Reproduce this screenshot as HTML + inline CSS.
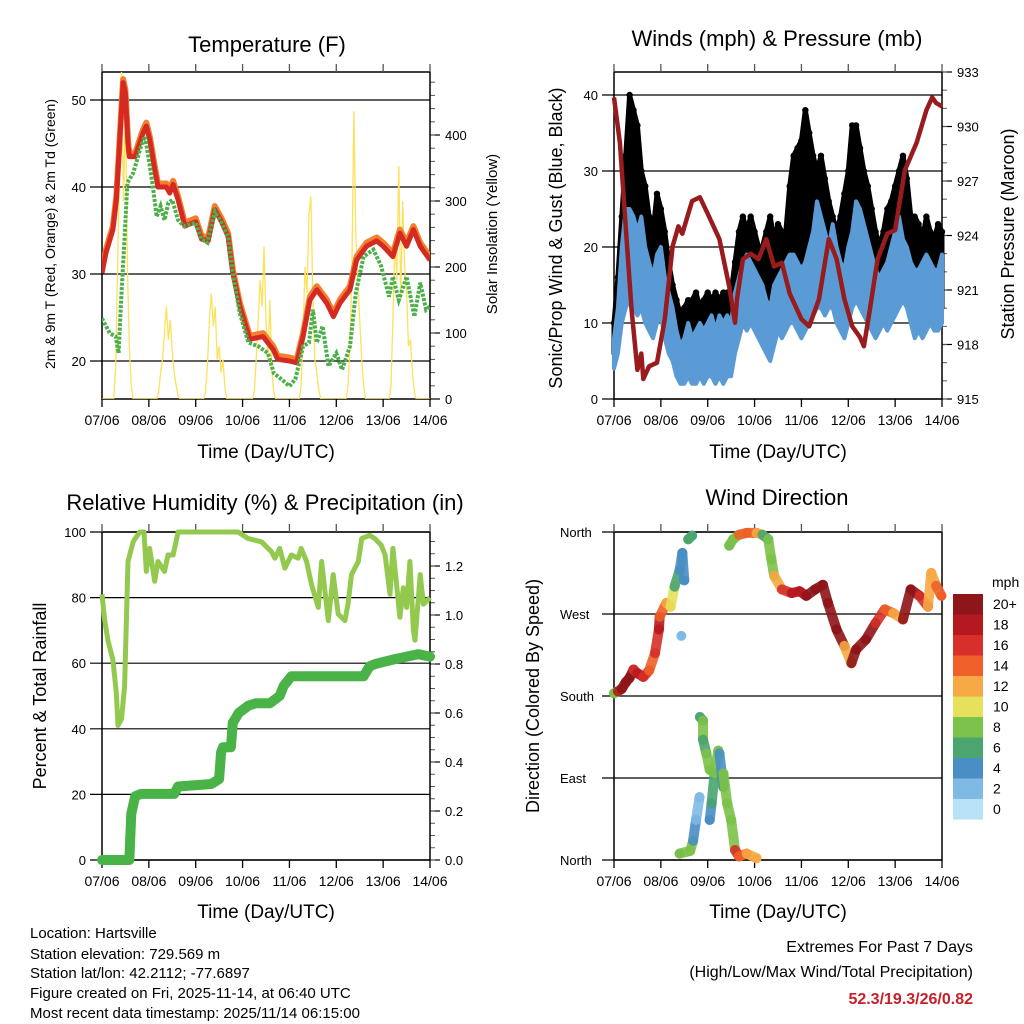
<!DOCTYPE html>
<html><head><meta charset="utf-8"><style>
html,body{margin:0;padding:0;background:#fff;}
svg{display:block;font-family:"Liberation Sans",Arial,sans-serif;}
</style></head><body>
<svg id="fig" width="1024" height="1024" viewBox="0 0 1024 1024" xmlns="http://www.w3.org/2000/svg">
<rect x="0" y="0" width="1024" height="1024" fill="#fff"/>
<g id="layer"></g>
<text x="267" y="52" font-size="22" text-anchor="middle">Temperature (F)</text>
<text x="777" y="46" font-size="22" text-anchor="middle">Winds (mph) &amp; Pressure (mb)</text>
<text x="265" y="510" font-size="22" text-anchor="middle">Relative Humidity (%) &amp; Precipitation (in)</text>
<text x="777" y="505" font-size="22" text-anchor="middle">Wind Direction</text>
<text x="266" y="458" font-size="19" text-anchor="middle">Time (Day/UTC)</text>
<text x="778" y="458" font-size="19" text-anchor="middle">Time (Day/UTC)</text>
<text x="266" y="918" font-size="19" text-anchor="middle">Time (Day/UTC)</text>
<text x="778" y="918" font-size="19" text-anchor="middle">Time (Day/UTC)</text>
<text transform="translate(55,234) rotate(-90)" font-size="14" text-anchor="middle">2m &amp; 9m T (Red, Orange) &amp; 2m Td (Green)</text>
<text transform="translate(497,234) rotate(-90)" font-size="15" text-anchor="middle">Solar Insolation (Yellow)</text>
<text transform="translate(562,238) rotate(-90)" font-size="18" text-anchor="middle">Sonic/Prop Wind &amp; Gust (Blue, Black)</text>
<text transform="translate(1014,234) rotate(-90)" font-size="18" text-anchor="middle">Station Pressure (Maroon)</text>
<text transform="translate(46,696) rotate(-90)" font-size="18" text-anchor="middle">Percent &amp; Total Rainfall</text>
<text transform="translate(539,696) rotate(-90)" font-size="18" text-anchor="middle">Direction (Colored By Speed)</text>
<g font-size="15">
<text x="30" y="938">Location: Hartsville</text>
<text x="30" y="959">Station elevation: 729.569 m</text>
<text x="30" y="978">Station lat/lon: 42.2112; -77.6897</text>
<text x="30" y="998">Figure created on Fri, 2025-11-14, at 06:40 UTC</text>
<text x="30" y="1018">Most recent data timestamp: 2025/11/14 06:15:00</text>
</g>
<text x="973" y="952" font-size="16" text-anchor="end">Extremes For Past 7 Days</text>
<text x="973" y="977" font-size="16" text-anchor="end">(High/Low/Max Wind/Total Precipitation)</text>
<text x="973" y="1004" font-size="16" font-weight="bold" fill="#c8202a" text-anchor="end">52.3/19.3/26/0.82</text>
<text x="992" y="587" font-size="14">mph</text>
</svg>
<script>
// ---------- data ----------
const dayLabels = ["07/06","08/06","09/06","10/06","11/06","12/06","13/06","14/06"];
const tHours = [0,2,5.6,7.3,9,10.8,12,13.3,14,17,21,22.7,24.5,27,28.7,33,34.7,36.4,39,42.4,48,51,54.4,57.8,61.2,64.6,67,70.6,75.7,82.5,87.7,90,96,99.7,103,106.5,110,115,118.5,122,127,130.4,135.5,140.7,144,149,152.6,156,159.5,163,168];
const tempVals = [30.1,32.4,35.1,38.5,45,52,50.8,45,43.5,43.5,46.2,47,45.4,42,40,40,39.3,40.3,38.5,35.5,36,34,33.8,37.4,36,34.3,30.1,26.3,22.5,22.8,21.3,20.2,20,19.8,22.8,27,28.2,26.7,25.1,26.7,28.2,31.6,33.2,33.8,33.2,32,34.7,33.2,35.1,33.2,31.6];
const tdHours = [0,4,7,8.5,10,11.5,13,16,20,22,24,26,28,30,32,34,36,39,42,48,51,54,57.8,61,64.6,67,70.6,75,80,85,88,92,96,99,103,106,108,110,113,116,120,123,127,130,134,139,143,147,149,152,156,160,163,166,168];
const tdVals = [24.9,23.2,22.8,20.9,27.8,34,40.5,41.6,44.7,45.8,43.1,40.1,36.6,37.8,36.2,38.2,38.5,36.2,35.5,35.9,34,33.6,37.2,36,34.3,30.1,25.5,22.1,21.7,20.9,18.6,17.9,17.1,17.9,21.7,22.1,25.9,22.1,24,19.4,20.9,19,21.7,27.8,32,32.8,30.9,27.4,29.7,27,29.7,25.1,29,25.9,26.3];
const solarHours = [0,6,7,8,9,10,11,12,13,14,15,16,28,29,30,31,32,33,34,35,36,37,38,39,40,52,53,54,55,56,57,58,59,60,61,62,63,64,77,78,79,80,81,82,83,84,85,86,87,88,89,101,102,103,104,105,106,107,108,109,110,111,112,125,126,127,128,129,130,131,132,133,134,135,147,148,149,150,151,152,153,154,155,156,157,158,159,160,161,168];
const solarVals = [0,0,50,200,350,500,300,450,200,80,20,0,0,10,40,60,100,140,90,120,70,40,20,5,0,0,10,50,120,160,110,140,60,80,40,60,15,0,0,10,60,120,180,140,231,120,60,150,40,10,0,0,20,100,200,160,280,307,150,60,40,15,0,0,20,80,200,436,250,180,120,60,20,0,0,20,120,250,180,353,150,300,200,160,80,90,40,10,0,0];
const wHours = [0,2,4,6,8,10,12,14,16,18,20,22,24,26,28,30,32,34,36,38,40,42,44,46,48,50,52,54,56,58,60,62,64,66,68,70,72,74,76,78,80,82,84,86,88,90,92,94,96,98,100,102,104,106,108,110,112,114,116,118,120,122,124,126,128,130,132,134,136,138,140,142,144,146,148,150,152,154,156,158,160,162,164,166,168];
const windLo = [4,6,10,12,13,12,11,12,10,9,8,10,11,8,6,5,3,2,2,3,2,2,3,2,3,3,2,3,2,3,3,6,8,10,9,10,9,8,7,6,5,7,9,8,9,10,10,9,8,9,10,11,12,12,11,12,12,10,9,8,10,12,13,12,11,10,9,8,9,10,9,10,11,12,13,12,10,8,9,8,9,10,9,9,10];
const windHi = [8,12,20,25,25,24,22,24,20,18,16,19,20,16,14,12,9,7,8,10,8,9,10,9,10,11,9,11,10,11,10,14,16,18,19,18,17,16,15,13,12,15,16,17,18,19,19,18,17,18,20,22,26,24,22,20,23,20,18,17,20,22,26,25,23,21,19,17,16,17,18,20,22,24,21,20,18,17,17,18,19,18,17,17,19];
const gustLo = [6,8,14,18,20,18,18,16,14,12,12,14,14,12,10,8,6,5,6,6,7,7,8,8,8,8,8,9,9,9,9,10,12,13,13,12,13,12,10,10,12,13,13,14,14,16,17,18,18,18,17,16,17,16,15,14,13,12,12,14,16,18,18,17,16,15,13,12,11,11,12,12,13,14,14,13,12,12,11,11,12,11,11,11,12];
const gustHi = [10,16,24,32,40,38,36,30,28,24,22,27,25,22,18,15,13,11,12,13,13,14,12,13,14,13,14,13,14,14,14,18,22,24,22,24,22,20,20,22,24,21,23,22,22,28,32,33,34,38,35,32,30,32,29,26,24,22,24,27,30,36,36,33,30,28,25,22,20,22,25,26,28,30,32,29,24,24,23,21,24,22,21,23,22];
const pHours = [0,3,6,9,12,14,15,18,22,26,30,33,35,40,44,48,54,59,62,63,66,70,74,78,82,86,90,96,100,105,110,114,118,122,126,128,131,135,140,144,149,155,160,163,165,168];
const pressVals = [931.6,929.1,924.5,919.9,916.6,917.5,916.1,916.8,917,919.4,923.4,924.5,924.1,925.9,926.1,925.2,923.8,921.2,919.2,920.5,922.7,923,922.7,923.8,922.3,922.5,920.8,919.4,919,920.5,923.8,922.7,920.5,919,918.4,917.9,919.9,922.7,924.1,924.3,927.6,929.1,930.9,931.6,931.3,931.1];
const rhHours = [0,1.4,3,5.6,7.3,8.2,10,11.6,13.3,16,19.3,21.5,22.7,24.4,27,28.7,32,33.8,36.4,39,69.7,74.9,81.7,86.8,88.5,91,93.7,97,100.5,102,104.8,107.3,110.8,112.5,115.9,118.4,121,124.4,126,127.8,131.3,133,137,139.8,143,145,147.5,149,152.6,154.3,156,157.7,159.5,160.3,163,164.6,168];
const rhVals = [81,73,67,61,51,41,43,53,91,97,100,100,88,95,85,91,88,93,93,100,100,98,97,94,92,95,89,93,92,95,91,84,77,91,73,87,75,73,78,87,91,98,99,98,96,93,81,95,74,83,77,91,70,67,87,78,80];
const prHours = [0,14,15,17,20,37,39,56,60,61,62,66,67,70,75,79,86,91,93,97,134,137,140,150,162,168];
const prVals = [0,0,0.19,0.26,0.27,0.27,0.30,0.31,0.33,0.44,0.46,0.46,0.56,0.60,0.63,0.64,0.64,0.67,0.71,0.75,0.75,0.79,0.80,0.82,0.84,0.83];
const dirHoursA = [0,2,4,6,8,10,12,15,18,21,23,23.4,26.8,29,31,33.6,35,36,38,40];
const dirValsA = [183,185,188,195,200,209,205,201,208,227,253,267,282,278,300,318,337,307,352,356];
const dirSpdA = [7,9,18,20,20,20,16,18,16,14,16,18,14,12,10,6,4,4,6,6];
const dirHoursB = [59,61,64,68,73,76,79,80.6,82,86,91,95,98.5,103,107,109.6,114,118,121.6,124,129,134,138.7,143,148,152,156.5,160.8,162.5,165,167.7];
const dirValsB = [345,352,357,359,359,357,352,330,312,297,293,295,290,297,302,282,253,235,216,231,242,260,275,271,264,297,290,278,315,301,290];
const dirSpdB = [6,8,8,14,14,12,6,8,8,12,16,18,18,20,20,20,20,20,12,20,20,20,16,14,12,20,20,16,12,12,14];
const dirHoursC = [34.5,33.6,39,40.5,42,43.8,44,45.6,45.6,47.3,49,49,50,51.5,53.4,54,56,56,58,60,62,64,68,73];
const dirValsC = [246,7,10,21,44,69,157,153,132,117,99,44,62,95,120,117,80,95,62,44,11,4,7,2];
const dirSpdC = [2,6,8,8,4,2,2,6,8,6,8,4,4,6,8,8,4,6,8,8,8,16,14,12];
const cbLabels = ["20+","18","16","14","12","10","8","6","4","2","0"];
const cbColors = ["#8e1519","#b5191f","#d7302a","#ef6129","#f6a945","#e6e05a","#7dc24a","#4aa56e","#4a8ec5","#7fbae5","#b8e3f7"];

// ---------- helpers ----------
const NS = "http://www.w3.org/2000/svg";
const layer = document.getElementById("layer");
function mk(tag, attrs, parent){ const e=document.createElementNS(NS,tag); for(const k in attrs) e.setAttribute(k,attrs[k]); (parent||layer).appendChild(e); return e; }
function xs(x0,x1){ return t => x0 + t/168*(x1-x0); }
function lin(v0,v1,y0,y1){ return v => y0 + (v-v0)/(v1-v0)*(y1-y0); }
function pathOf(hs,vs,X,Y){ return hs.map((h,i)=>(i?"L":"M")+X(h).toFixed(1)+","+Y(vs[i]).toFixed(1)).join(""); }
function spdColor(s){ let i=Math.min(10,Math.max(0,Math.floor(s/2))); return cbColors[10-i]; }

function frame(name,x0,y0,x1,y1,leftTicks,LY,rightTicks,RY,rightMinor){
  const g=mk("g",{});
  
  
  leftTicks.forEach(v=>{
    const l=mk("line",{x1:x0-12,x2:x1,y1:LY(v.v),y2:LY(v.v),stroke:"#000","stroke-width":1.2},g);
    
    
    const t=mk("text",{x:v.lx!==undefined?v.lx:x0-16,y:LY(v.v)+5,"font-size":v.fs||13,"text-anchor":v.anchor||"end"},g);
    t.textContent=v.label;
    
    
  });
  if(rightTicks){ rightTicks.forEach(v=>{
    const l=mk("line",{x1:x1,x2:x1+10,y1:RY(v.v),y2:RY(v.v),stroke:"#000","stroke-width":1.2},g);
    
    
    const t=mk("text",{x:x1+(v.dx||15),y:RY(v.v)+5,"font-size":13},g);
    t.textContent=v.label;
    
    
  });
  rightMinor.forEach(v=>{
    const l=mk("line",{x1:x1,x2:x1+5,y1:RY(v),y2:RY(v),stroke:"#555","stroke-width":1},g);
    
    
  });}
  const r=mk("rect",{x:x0,y:y0,width:x1-x0,height:y1-y0,fill:"none",stroke:"#000","stroke-width":1.5},g);
  
  
  const X=xs(x0,x1);
  dayLabels.forEach((d,i)=>{
    const xx=X(i*24);
    const a=mk("line",{x1:xx,x2:xx,y1:y1,y2:y1+8,stroke:"#000","stroke-width":1.3},g);
    
    
    const b=mk("line",{x1:xx,x2:xx,y1:y0-8,y2:y0,stroke:"#555","stroke-width":1.3},g);
    
    
    const t=mk("text",{x:xx,y:y1+26,"font-size":14,"text-anchor":"middle"},g);
    t.textContent=d;
    
    
  });
  return X;
}
function range(a,b,s){ const r=[]; for(let v=a; v<=b+1e-9; v+=s) r.push(+v.toFixed(3)); return r; }

// ---------- Panel 1: temperature ----------
{
  const TY=lin(20,50,361,100), SY=lin(0,400,399,135);
  const X=frame("temperature",102,72,430,399,[20,30,40,50].map(v=>({v,label:String(v)})),TY,
    [0,100,200,300,400].map(v=>({v,label:String(v)})),SY,range(20,480,20));
  const clip=mk("clipPath",{id:"c1"}); mk("rect",{x:102,y:72,width:328,height:327},clip);
  const sol=mk("path",{d:pathOf(solarHours,solarVals,X,SY),fill:"none",stroke:"#fde15a","stroke-width":1.3,"clip-path":"url(#c1)"});
  
  
  const o=mk("path",{d:pathOf(tHours,tempVals.map(v=>v+0.4),X,TY),fill:"none",stroke:"#f57f2c","stroke-width":6,"stroke-linejoin":"round","clip-path":"url(#c1)"});
  
  
  const r=mk("path",{d:pathOf(tHours,tempVals,X,TY),fill:"none",stroke:"#d42a22","stroke-width":5,"stroke-linejoin":"round","clip-path":"url(#c1)"});
  
  
  const g=mk("path",{d:pathOf(tdHours,tdVals,X,TY),fill:"none",stroke:"#4cb04a","stroke-width":4,"stroke-dasharray":"3 1.5","clip-path":"url(#c1)"});
  
  
}

// ---------- Panel 2: winds ----------
{
  const WY=lin(0,40,399,95), PY=lin(915,933,399,72);
  const X=frame("winds",614,72,942,399,[0,10,20,30,40].map(v=>({v,label:String(v)})),WY,
    [915,918,921,924,927,930,933].map(v=>({v,label:String(v)})),PY,range(915,933,1));
  const band=(lo,hi)=>{ let d="M"+wHours.map((h,i)=>X(h).toFixed(1)+","+WY(hi[i]).toFixed(1)).join("L");
    for(let i=wHours.length-1;i>=0;i--) d+="L"+X(wHours[i]).toFixed(1)+","+WY(lo[i]).toFixed(1); return d+"Z"; };
  const gb=mk("path",{d:band(gustLo,gustHi),fill:"#000",stroke:"#000","stroke-width":5,"stroke-linejoin":"round"});
  
  
  wHours.forEach((h,i)=>{
    const c=mk("circle",{cx:X(h),cy:WY(gustHi[i]),r:3.2,fill:"#000"});
    
    
  });
  const wb=mk("path",{d:band(windLo,windHi),fill:"#5b9bd5",stroke:"#5b9bd5","stroke-width":4,"stroke-linejoin":"round"});
  
  
  const p=mk("path",{d:pathOf(pHours,pressVals,X,PY),fill:"none",stroke:"#981b1e","stroke-width":4.5,"stroke-linejoin":"round"});
  
  
}

// ---------- Panel 3: RH & precip ----------
{
  const HY=lin(0,100,860,532), RY=lin(0,1.2,860,566);
  const X=frame("humidity",102,532,430,860,[0,20,40,60,80,100].map(v=>({v,label:String(v)})),HY,
    [0,0.2,0.4,0.6,0.8,1.0,1.2].map(v=>({v,label:v.toFixed(1)})),RY,range(0,1.3,0.05));
  const rh=mk("path",{d:pathOf(rhHours,rhVals,X,HY),fill:"none",stroke:"#93c94e","stroke-width":5,"stroke-linejoin":"round"});
  
  
  const pr=mk("path",{d:pathOf(prHours,prVals,X,RY),fill:"none",stroke:"#49b347","stroke-width":10,"stroke-linejoin":"round","stroke-linecap":"round"});
  
  
}

// ---------- Panel 4: wind direction ----------
{
  const DY=lin(0,360,860,532);
  const X=frame("direction",614,532,942,860,[{v:0,label:"North"},{v:90,label:"East"},{v:180,label:"South"},{v:270,label:"West"},{v:360,label:"North"}].map(o=>({v:o.v,label:o.label,lx:560,anchor:"start",fs:13})),DY,null,null,null);
  function branch(hs,ds,ss,nm){
    for(let i=0;i<hs.length;i++){
      if(i>0 && Math.abs(ds[i]-ds[i-1])<40 && hs[i]-hs[i-1]<8){
        const l=mk("line",{x1:X(hs[i-1]),y1:DY(ds[i-1]),x2:X(hs[i]),y2:DY(ds[i]),stroke:spdColor(ss[i]),"stroke-width":10,"stroke-linecap":"round","opacity":0.9});
        
        
      }
      const c=mk("circle",{cx:X(hs[i]),cy:DY(ds[i]),r:5,fill:spdColor(ss[i])});
      
      
    }
  }
  branch(dirHoursA,dirValsA,dirSpdA,"direction-early");
  branch(dirHoursB,dirValsB,dirSpdB,"direction-late");
  branch(dirHoursC,dirValsC,dirSpdC,"direction-easterly");
  cbColors.forEach((c,i)=>{
    const r=mk("rect",{x:953,y:594+i*20.5,width:30,height:20.6,fill:c});
    
    
    const t=mk("text",{x:993,y:609+i*20.5,"font-size":14});
    t.textContent=cbLabels[i];
    
    
  });
}
</script>
</body></html>
